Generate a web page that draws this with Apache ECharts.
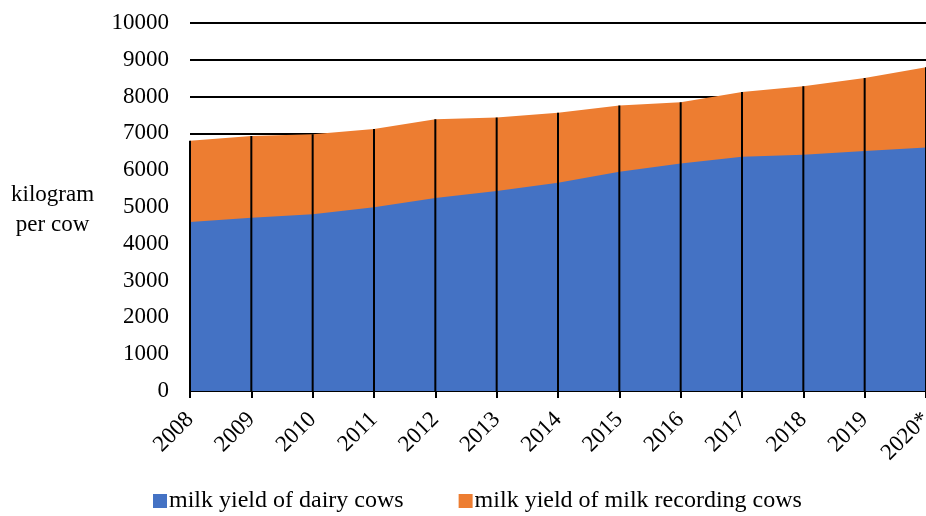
<!DOCTYPE html>
<html>
<head>
<meta charset="utf-8">
<script src="https://cdn.jsdelivr.net/npm/echarts@6/dist/echarts.min.js"></script>
<style>html,body{margin:0;padding:0;background:#fff}#c{width:926px;height:516px}</style>
</head>
<body>
<div id="c"></div>
<script>
var years = ['2008','2009','2010','2011','2012','2013','2014','2015','2016','2017','2018','2019','2020*'];
var dairyCows = [4590, 4710, 4800, 4990, 5245, 5435, 5660, 5960, 6185, 6365, 6420, 6520, 6620];
var recordingCows = [6800, 6930, 6980, 7120, 7385, 7430, 7560, 7755, 7845, 8125, 8280, 8505, 8795];
var yTicks = [0, 1000, 2000, 3000, 4000, 5000, 6000, 7000, 8000, 9000, 10000];

var FONT = '"Liberation Serif", "Times New Roman", serif';
var chart = echarts.init(document.getElementById('c'), null, {renderer: 'canvas'});
chart.setOption({
  animation: false,
  textStyle: {fontFamily: FONT, color: '#000'},
  grid: {left: 190, right: 0, top: 23, bottom: 125, containLabel: false, outerBoundsMode: 'none'},
  legend: {
    data: ['milk yield of dairy cows', 'milk yield of milk recording cows'],
    bottom: -2, left: 148,
    itemWidth: 14, itemHeight: 14, itemGap: 55,
    icon: 'rect',
    textStyle: {fontFamily: FONT, fontSize: 24, color: '#000', padding: [0, 0, 0, -3]}
  },
  graphic: [{
    type: 'text', left: 11, top: 180,
    style: {text: 'kilogram\nper cow', font: '23px ' + FONT, fill: '#000', textAlign: 'center', lineHeight: 30}
  }],
  xAxis: {
    type: 'category', data: years, boundaryGap: false,
    axisLine: {lineStyle: {color: '#000', width: 2}},
    axisTick: {show: true, length: 7, lineStyle: {color: '#000', width: 2}, alignWithLabel: true},
    axisLabel: {rotate: 45, fontSize: 23, color: '#000', fontFamily: FONT, margin: 25, interval: 0,
      hideOverlap: false},
    splitLine: {show: false}
  },
  yAxis: {
    type: 'value', min: 0, max: 10000, interval: 1000,
    axisLine: {show: false}, axisTick: {show: false},
    axisLabel: {fontSize: 23, color: '#000', fontFamily: FONT, margin: 21,
      formatter: function (v) { return yTicks.indexOf(v) >= 0 ? String(v) : ''; }},
    splitLine: {lineStyle: {color: '#000', width: 2}}
  },
  series: [
    {
      name: 'milk yield of dairy cows', type: 'line', data: dairyCows, z: 3,
      symbol: 'none', lineStyle: {width: 0}, itemStyle: {color: '#4472C4'},
      areaStyle: {color: '#4472C4', opacity: 1}
    },
    {
      name: 'milk yield of milk recording cows', type: 'line', data: recordingCows, z: 2,
      symbol: 'none', lineStyle: {width: 0}, itemStyle: {color: '#ED7D31'},
      areaStyle: {color: '#ED7D31', opacity: 1}
    },
    {
      name: 'drop', type: 'bar', data: recordingCows, z: 4, barWidth: 2, silent: true,
      itemStyle: {color: '#000'}
    }
  ]
});
</script>
</body>
</html>
